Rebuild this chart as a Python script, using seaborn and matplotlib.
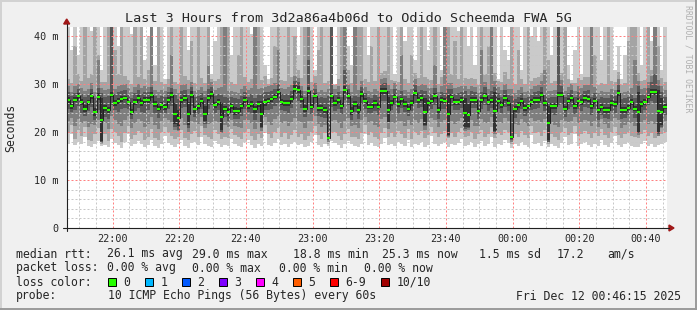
import numpy as np
import pandas as pd
import matplotlib
matplotlib.use("Agg")
import matplotlib.pyplot as plt
import matplotlib.dates as mdates
from matplotlib.ticker import FixedLocator, MultipleLocator
from matplotlib.patches import Rectangle, Polygon
from matplotlib.lines import Line2D
import seaborn as sns

# ---------------- data ----------------
START = "2025-12-11 21:46:15"

median_ms = [
    26.7, 25.4, 26.7, 27.5, 26.2, 24.9, 26.2, 27.5, 24.2, 27.4,
    22.6, 25.0, 24.6, 27.8, 26.1, 26.5, 26.9, 27.1, 26.2, 24.2,
    26.2, 27.1, 26.1, 26.7, 26.7, 27.7, 25.8, 24.9, 25.6, 25.2,
    26.6, 27.7, 23.8, 22.9, 26.7, 27.1, 23.8, 27.8, 24.7, 25.4,
    26.5, 23.8, 27.1, 27.9, 25.6, 26.2, 23.2, 24.9, 24.2, 25.4,
    24.4, 24.4, 25.4, 26.7, 25.4, 25.9, 24.7, 25.8, 23.7, 26.2,
    26.4, 26.8, 27.4, 28.4, 26.3, 26.1, 26.1, 26.9, 29.0, 28.8,
    26.9, 24.9, 28.6, 25.3, 27.6, 25.0, 25.0, 24.6, 18.8, 27.5,
    26.1, 26.7, 25.4, 28.8, 27.5, 24.4, 25.8, 24.6, 27.9, 26.4,
    25.3, 25.3, 26.1, 25.3, 28.6, 28.6, 24.6, 26.1, 27.4, 25.8,
    26.8, 25.8, 24.9, 26.1, 28.2, 26.7, 27.1, 24.2, 26.1, 26.4,
    27.5, 24.6, 26.7, 26.5, 23.7, 27.4, 26.3, 26.3, 26.7, 24.0,
    23.5, 26.7, 26.7, 24.4, 26.7, 27.5, 26.2, 26.7, 24.3, 26.5,
    25.6, 27.1, 26.1, 18.9, 24.8, 25.7, 26.5, 25.0, 25.4, 26.2,
    26.7, 26.7, 27.8, 26.1, 21.9, 25.4, 25.4, 27.8, 27.8, 24.9,
    26.5, 27.1, 25.4, 26.5, 26.2, 27.1, 26.9, 25.4, 26.5, 24.5,
    25.3, 24.6, 24.6, 26.1, 25.8, 28.2, 24.6, 24.6, 25.1, 26.2,
    24.9, 24.2, 25.8, 26.2, 27.4, 28.4, 28.4, 24.4, 24.2, 25.3,
]

# sorted ping values per step (ms); 45 = above the top of the graph
p01 = [
    17.6, 19.5, 17.2, 18.0, 17.4, 19.0, 17.0, 16.8, 17.5, 18.2,
    17.0, 17.3, 16.9, 18.5, 17.8, 17.2, 16.6, 17.9, 19.6, 17.1,
    17.4, 18.1, 17.6, 16.8, 17.2, 18.4, 17.0, 16.7, 17.5, 19.2,
    17.8, 17.3, 16.9, 17.4, 18.3, 17.0, 16.6, 17.7, 18.0, 17.2,
    19.0, 17.4, 17.1, 16.8, 18.2, 17.5, 16.9, 17.3, 17.0, 18.6,
    17.6, 17.1, 16.8, 17.9, 18.4, 17.2, 16.7, 17.5, 17.0, 19.8,
    17.3, 17.0, 17.8, 18.5, 17.2, 17.6, 16.9, 17.4, 18.0, 17.2,
    17.5, 16.8, 17.1, 17.9, 19.4, 17.3, 16.9, 17.6, 17.0, 18.1,
    17.8, 17.2, 16.7, 17.4, 18.2, 17.6, 17.0, 16.8, 17.5, 19.5,
    17.3, 17.8, 17.0, 16.9, 17.5, 18.8, 17.2, 17.6, 17.1, 18.0,
    17.4, 17.0, 18.4, 16.9, 17.6, 17.2, 17.9, 16.8, 17.3, 19.2,
    17.6, 17.0, 17.4, 18.0, 16.9, 17.5, 17.2, 17.8, 18.6, 17.0,
    17.3, 17.9, 16.8, 17.5, 18.2, 17.1, 17.4, 19.0, 16.9, 17.6,
    17.2, 18.3, 17.7, 16.7, 17.4, 17.0, 18.0, 17.3, 16.9, 19.4,
    17.5, 17.8, 17.1, 18.1, 16.8, 17.4, 17.0, 16.6, 17.7, 18.9,
    17.2, 17.6, 19.5, 17.0, 17.4, 18.0, 17.3, 16.9, 17.6, 17.1,
    18.4, 17.3, 16.9, 17.7, 19.1, 17.2, 16.8, 17.5, 17.9, 17.1,
    16.8, 16.9, 17.4, 18.2, 17.0, 17.6, 16.8, 17.2, 17.5, 17.9,
]
p02 = [
    19.8, 21.5, 18.6, 20.4, 19.2, 21.0, 18.4, 18.2, 19.6, 20.8,
    17.4, 19.5, 18.2, 20.6, 20.0, 19.1, 18.0, 19.8, 21.2, 18.6,
    19.3, 20.2, 19.7, 18.4, 19.0, 20.7, 18.8, 18.3, 19.9, 21.0,
    20.1, 19.2, 18.5, 18.9, 20.5, 18.7, 18.4, 19.6, 20.3, 19.0,
    21.2, 19.3, 18.9, 18.6, 20.4, 19.5, 18.5, 19.0, 18.8, 20.6,
    19.4, 18.9, 18.5, 20.0, 20.6, 19.1, 18.3, 19.6, 18.7, 21.4,
    19.5, 18.8, 20.0, 20.9, 19.0, 19.8, 18.6, 19.3, 20.4, 19.0,
    19.6, 18.4, 19.2, 20.1, 21.3, 19.4, 18.6, 19.7, 17.6, 20.0,
    20.0, 19.1, 18.4, 19.5, 20.6, 19.0, 18.9, 18.6, 19.8, 21.4,
    19.3, 20.1, 18.9, 18.5, 19.8, 20.9, 19.0, 19.7, 18.9, 20.2,
    19.6, 18.8, 20.6, 18.6, 19.9, 19.3, 20.2, 18.7, 19.4, 21.0,
    19.8, 18.9, 19.5, 20.3, 18.8, 19.7, 19.0, 20.0, 20.8, 18.9,
    19.2, 20.1, 18.6, 19.6, 20.5, 19.0, 19.5, 21.1, 18.8, 19.7,
    19.3, 20.4, 19.9, 17.4, 19.5, 19.0, 20.3, 19.4, 18.7, 21.2,
    19.7, 20.0, 19.2, 20.4, 17.4, 19.6, 19.0, 18.4, 19.9, 20.8,
    19.4, 19.8, 21.3, 19.1, 19.6, 20.2, 19.5, 18.8, 19.8, 19.2,
    20.6, 19.4, 18.8, 19.9, 21.0, 19.4, 18.7, 19.6, 20.1, 19.2,
    18.9, 18.7, 19.5, 20.4, 19.1, 19.8, 18.7, 19.3, 19.6, 20.0,
]
p03 = [
    22.4, 23.0, 21.2, 22.8, 21.9, 22.3, 21.0, 21.6, 21.4, 22.6,
    17.7, 21.8, 20.6, 23.4, 22.5, 21.7, 21.2, 22.6, 23.3, 20.8,
    21.9, 22.8, 22.3, 21.0, 21.7, 23.2, 21.5, 20.7, 22.2, 22.9,
    22.6, 22.0, 20.5, 20.2, 23.0, 21.4, 20.0, 22.3, 22.0, 21.6,
    23.1, 20.8, 21.6, 21.8, 22.4, 22.0, 19.8, 21.5, 21.0, 22.5,
    21.3, 21.0, 20.9, 22.5, 22.6, 21.8, 20.6, 22.0, 20.2, 23.2,
    22.1, 21.4, 22.7, 23.3, 21.8, 22.2, 21.3, 22.0, 23.0, 22.2,
    22.0, 20.8, 22.4, 22.2, 23.4, 21.6, 21.0, 21.5, 18.0, 22.3,
    22.5, 21.8, 20.9, 22.4, 23.0, 21.2, 21.4, 20.9, 22.6, 23.1,
    21.8, 22.3, 21.5, 21.0, 22.8, 23.2, 20.6, 22.1, 21.8, 22.4,
    22.2, 21.3, 22.5, 21.4, 22.6, 21.9, 22.8, 20.4, 22.0, 23.0,
    22.5, 21.0, 22.0, 22.6, 18.9, 22.4, 21.7, 22.3, 23.0, 20.2,
    20.4, 22.6, 21.3, 21.2, 22.8, 21.9, 22.0, 23.2, 19.6, 22.1,
    21.8, 22.9, 22.2, 18.0, 21.6, 21.5, 22.7, 21.8, 21.2, 23.0,
    22.2, 22.5, 22.0, 22.8, 17.8, 21.9, 21.5, 21.0, 22.6, 22.4,
    22.0, 22.3, 23.1, 21.8, 22.1, 22.6, 22.2, 21.3, 22.2, 21.0,
    22.7, 21.6, 20.8, 22.3, 23.0, 22.5, 20.9, 21.4, 22.0, 21.8,
    21.2, 19.4, 22.0, 22.6, 21.7, 22.4, 21.6, 19.2, 20.8, 22.3,
]
p04 = [
    24.8, 24.2, 24.6, 25.5, 24.0, 23.4, 24.3, 25.2, 22.6, 24.6,
    18.0, 23.2, 22.8, 25.6, 24.5, 24.2, 24.8, 25.0, 24.7, 22.8,
    24.3, 25.0, 24.2, 24.0, 24.6, 25.8, 23.9, 23.0, 24.0, 24.0,
    24.7, 25.4, 21.0, 20.5, 25.0, 25.2, 20.8, 25.4, 23.2, 23.8,
    24.8, 21.6, 24.8, 25.6, 24.0, 24.5, 20.0, 23.2, 22.4, 24.0,
    22.8, 22.7, 23.4, 24.9, 24.2, 24.0, 22.6, 24.0, 20.8, 24.5,
    24.6, 24.8, 25.5, 26.0, 24.5, 24.3, 24.0, 25.0, 26.8, 26.4,
    25.0, 23.2, 26.0, 23.8, 25.8, 23.4, 23.2, 22.9, 18.3, 25.2,
    24.4, 24.9, 23.8, 26.6, 25.6, 22.6, 24.2, 22.8, 25.8, 24.7,
    23.8, 23.9, 24.4, 23.6, 26.5, 26.4, 22.0, 24.5, 25.6, 24.0,
    25.0, 24.2, 23.3, 24.4, 26.0, 25.0, 25.2, 21.2, 24.3, 24.8,
    25.6, 22.8, 24.9, 24.8, 19.2, 25.4, 24.6, 24.6, 25.0, 20.6,
    20.8, 25.0, 25.1, 22.7, 24.8, 25.6, 24.4, 25.0, 20.0, 24.8,
    24.0, 25.2, 24.4, 18.3, 23.0, 24.0, 24.8, 23.3, 23.7, 24.5,
    24.9, 25.0, 25.8, 24.4, 18.0, 23.8, 23.6, 25.6, 25.9, 23.1,
    24.8, 25.3, 23.8, 24.8, 24.4, 25.2, 25.0, 23.6, 24.9, 22.6,
    23.6, 22.9, 22.8, 24.4, 24.0, 26.0, 22.8, 23.0, 23.5, 24.5,
    23.0, 19.7, 24.0, 24.6, 25.6, 26.5, 26.0, 19.6, 21.0, 23.6,
]
p05 = [
    26.1, 24.9, 26.2, 26.9, 25.6, 24.2, 25.7, 26.9, 23.4, 26.6,
    18.2, 24.3, 24.0, 27.2, 25.5, 25.9, 26.3, 26.6, 25.7, 23.6,
    25.6, 26.5, 25.5, 26.0, 26.1, 27.0, 25.2, 24.3, 25.0, 24.6,
    26.0, 27.0, 21.6, 21.2, 26.0, 26.5, 21.4, 27.1, 24.0, 24.8,
    25.9, 22.2, 26.5, 27.3, 25.0, 25.6, 20.4, 24.3, 23.4, 24.8,
    23.6, 23.8, 24.8, 26.1, 24.8, 25.3, 24.0, 25.2, 21.0, 25.5,
    25.8, 26.2, 26.8, 27.8, 25.7, 25.5, 25.5, 26.3, 28.3, 28.1,
    26.3, 24.2, 27.9, 24.7, 27.0, 24.4, 24.4, 24.0, 18.5, 26.9,
    25.5, 26.1, 24.8, 28.1, 26.9, 23.6, 25.2, 23.8, 27.3, 25.8,
    24.7, 24.7, 25.5, 24.7, 28.0, 28.0, 22.0, 25.5, 26.8, 25.2,
    26.2, 25.2, 24.3, 25.5, 27.6, 26.1, 26.5, 21.4, 25.5, 25.8,
    26.9, 24.0, 26.1, 25.9, 19.4, 26.8, 25.7, 25.7, 26.1, 21.0,
    21.0, 26.1, 26.1, 23.8, 26.1, 26.9, 25.6, 26.1, 20.2, 25.9,
    25.0, 26.5, 25.5, 18.6, 24.2, 25.1, 25.9, 24.4, 24.8, 25.6,
    26.1, 26.1, 27.2, 25.5, 18.3, 24.8, 24.8, 27.2, 27.2, 24.3,
    25.9, 26.5, 24.8, 25.9, 25.6, 26.5, 26.3, 24.8, 25.9, 23.9,
    24.7, 24.0, 24.0, 25.5, 25.2, 27.6, 24.0, 24.0, 24.5, 25.6,
    24.3, 20.0, 25.2, 25.6, 26.8, 27.8, 27.8, 20.0, 21.4, 24.7,
]
p06 = [
    27.3, 25.9, 27.2, 28.1, 26.8, 25.6, 26.7, 28.1, 25.0, 28.2,
    27.0, 25.7, 25.2, 28.4, 26.7, 27.1, 27.5, 27.6, 26.7, 24.8,
    26.8, 27.7, 26.7, 27.4, 27.3, 28.4, 26.4, 25.5, 26.2, 25.8,
    27.2, 28.4, 26.0, 24.6, 27.4, 27.7, 26.2, 28.5, 25.4, 26.0,
    27.1, 25.4, 27.7, 28.5, 26.2, 26.8, 26.0, 25.5, 25.0, 26.0,
    25.2, 25.0, 26.0, 27.3, 26.0, 26.5, 25.4, 26.4, 26.4, 26.9,
    27.0, 27.4, 28.0, 29.0, 26.9, 26.7, 26.7, 27.5, 29.7, 29.5,
    27.5, 25.6, 29.3, 25.9, 28.2, 25.6, 25.6, 25.2, 19.1, 28.1,
    26.7, 27.3, 26.0, 29.5, 28.1, 25.2, 26.4, 25.4, 28.5, 27.0,
    25.9, 25.9, 26.7, 25.9, 29.2, 29.2, 27.2, 26.7, 28.0, 26.4,
    27.4, 26.4, 25.5, 26.7, 28.8, 27.3, 27.7, 27.0, 26.7, 27.0,
    28.1, 25.2, 27.3, 27.1, 28.0, 28.0, 26.9, 26.9, 27.3, 27.0,
    26.0, 27.3, 27.3, 25.0, 27.3, 28.1, 26.8, 27.3, 28.4, 27.1,
    26.2, 27.7, 26.7, 19.2, 25.4, 26.3, 27.1, 25.6, 26.0, 26.8,
    27.3, 27.3, 28.4, 26.7, 25.5, 26.0, 26.0, 28.4, 28.4, 25.5,
    27.1, 27.7, 26.0, 27.1, 26.8, 27.7, 27.5, 26.0, 27.1, 25.1,
    25.9, 25.2, 25.2, 26.7, 26.4, 28.8, 25.2, 25.2, 25.7, 26.8,
    25.5, 28.4, 26.4, 26.8, 28.0, 29.0, 29.0, 28.8, 27.0, 25.9,
]
p07 = [
    28.4, 27.5, 28.2, 28.9, 28.0, 27.2, 27.9, 29.0, 27.0, 29.2,
    28.2, 27.4, 27.6, 45.0, 28.0, 28.3, 28.6, 28.8, 28.0, 27.0,
    28.1, 28.7, 28.0, 28.4, 28.3, 29.3, 27.6, 27.0, 27.6, 27.4,
    28.3, 29.2, 27.8, 26.8, 28.6, 28.8, 27.8, 29.4, 27.2, 27.5,
    28.2, 27.2, 28.9, 29.3, 27.6, 28.0, 27.8, 27.4, 27.0, 27.4,
    27.0, 26.8, 27.6, 28.4, 27.4, 28.0, 27.1, 27.8, 28.0, 28.3,
    28.4, 28.6, 29.0, 30.0, 28.0, 27.9, 28.0, 28.6, 30.6, 30.4,
    28.5, 27.2, 35.0, 27.4, 29.0, 27.0, 27.3, 27.0, 27.5, 45.0,
    27.8, 28.4, 27.2, 33.0, 29.0, 27.0, 27.6, 27.3, 29.4, 28.1,
    27.3, 27.0, 27.8, 27.2, 30.0, 30.2, 28.5, 27.8, 29.0, 27.5,
    28.6, 27.6, 27.0, 27.8, 29.8, 28.4, 28.8, 28.6, 27.9, 28.0,
    29.2, 27.0, 28.4, 28.2, 29.0, 29.0, 28.0, 28.1, 28.4, 28.5,
    27.8, 28.5, 28.3, 26.8, 28.4, 29.3, 27.9, 28.6, 29.4, 28.2,
    27.4, 28.8, 27.8, 27.6, 26.8, 27.4, 28.2, 27.0, 27.3, 27.8,
    28.4, 28.5, 29.4, 27.9, 27.0, 27.2, 27.4, 45.0, 29.6, 27.2,
    28.2, 28.8, 27.3, 28.3, 28.0, 28.6, 28.7, 27.4, 28.2, 26.8,
    27.2, 27.0, 27.0, 27.8, 27.6, 29.8, 26.9, 27.0, 27.2, 28.0,
    27.0, 29.5, 27.8, 28.0, 29.2, 30.4, 32.0, 29.6, 28.4, 27.4,
]
p08 = [
    29.6, 28.4, 29.5, 30.0, 29.2, 28.6, 29.0, 30.2, 28.4, 35.0,
    29.2, 28.8, 29.0, 45.0, 29.0, 29.6, 29.8, 30.0, 29.2, 28.4,
    29.4, 30.0, 29.2, 29.5, 29.4, 45.0, 28.8, 28.4, 28.8, 28.6,
    29.4, 36.0, 29.0, 28.2, 29.8, 30.0, 29.0, 30.5, 28.6, 28.8,
    29.4, 28.6, 34.0, 30.4, 28.8, 29.2, 29.4, 45.0, 28.6, 28.6,
    28.4, 28.2, 29.0, 29.6, 28.8, 29.2, 45.0, 29.0, 29.2, 29.4,
    29.6, 29.8, 30.2, 37.0, 29.2, 29.0, 29.4, 29.8, 31.6, 31.2,
    29.6, 28.6, 45.0, 28.8, 30.2, 28.4, 28.8, 28.4, 29.0, 45.0,
    29.0, 29.6, 28.6, 45.0, 30.0, 28.4, 45.0, 28.8, 30.6, 29.4,
    28.6, 28.4, 29.0, 28.6, 31.0, 31.2, 29.8, 29.0, 30.2, 28.8,
    36.0, 28.8, 28.4, 29.0, 31.0, 29.6, 30.0, 29.8, 29.2, 29.2,
    34.0, 28.4, 29.6, 45.0, 30.2, 30.2, 29.2, 29.4, 29.6, 29.6,
    29.0, 29.6, 29.4, 28.2, 37.0, 30.4, 29.0, 45.0, 30.6, 29.4,
    28.8, 30.0, 29.0, 29.0, 28.2, 28.8, 29.4, 28.4, 28.6, 29.0,
    29.6, 29.8, 30.6, 33.0, 28.6, 28.6, 28.8, 45.0, 30.8, 28.6,
    29.4, 30.0, 28.6, 29.6, 29.2, 29.8, 29.8, 45.0, 29.4, 28.2,
    28.6, 28.4, 28.4, 29.0, 28.8, 31.0, 28.2, 28.4, 28.6, 29.2,
    35.0, 30.6, 29.0, 29.2, 30.4, 31.6, 45.0, 30.8, 29.6, 28.8,
]
p09 = [
    31.0, 30.2, 38.0, 32.0, 30.6, 45.0, 31.2, 32.0, 45.0, 36.0,
    30.5, 30.4, 45.0, 45.0, 37.0, 32.0, 45.0, 31.6, 30.8, 30.0,
    45.0, 31.4, 45.0, 31.0, 33.0, 45.0, 30.6, 45.0, 30.4, 30.0,
    31.0, 45.0, 30.4, 30.0, 45.0, 31.6, 30.8, 39.0, 30.2, 45.0,
    31.2, 30.2, 45.0, 31.0, 30.6, 31.0, 45.0, 45.0, 45.0, 30.4,
    30.0, 36.0, 45.0, 31.4, 30.4, 31.0, 45.0, 45.0, 30.8, 31.6,
    30.0, 31.2, 38.0, 45.0, 30.8, 30.6, 45.0, 31.4, 40.0, 33.0,
    31.2, 45.0, 45.0, 30.4, 31.6, 37.0, 45.0, 30.2, 30.6, 45.0,
    29.8, 31.0, 45.0, 45.0, 33.0, 30.2, 45.0, 45.0, 45.0, 31.0,
    30.4, 38.0, 30.6, 45.0, 32.4, 32.8, 45.0, 30.8, 30.6, 30.4,
    45.0, 31.0, 30.2, 36.0, 32.4, 31.2, 45.0, 31.4, 31.0, 30.8,
    45.0, 30.0, 31.4, 45.0, 45.0, 32.0, 39.0, 31.0, 45.0, 31.2,
    31.0, 31.2, 31.0, 29.8, 45.0, 32.0, 38.0, 45.0, 32.2, 30.6,
    30.4, 32.6, 31.0, 45.0, 30.0, 37.0, 31.0, 30.0, 45.0, 30.6,
    31.2, 31.4, 32.2, 45.0, 35.0, 30.2, 30.6, 45.0, 32.4, 45.0,
    31.0, 30.2, 30.2, 31.2, 30.8, 31.4, 31.4, 45.0, 36.0, 29.8,
    30.2, 30.0, 45.0, 30.6, 30.4, 32.6, 29.8, 30.2, 39.0, 45.0,
    45.0, 32.2, 30.6, 30.8, 45.0, 33.0, 45.0, 38.0, 31.2, 30.4,
]
p10 = [
    45.0, 37.0, 45.0, 36.0, 45.0, 45.0, 45.0, 41.0, 45.0, 45.0,
    33.0, 45.0, 45.0, 45.0, 45.0, 38.0, 45.0, 45.0, 45.0, 40.5,
    45.0, 45.0, 45.0, 35.0, 40.0, 45.0, 34.0, 45.0, 45.0, 31.0,
    45.0, 45.0, 45.0, 45.0, 45.0, 45.0, 37.0, 45.0, 45.0, 45.0,
    45.0, 45.0, 45.0, 32.0, 39.0, 45.0, 45.0, 45.0, 45.0, 36.0,
    45.0, 45.0, 45.0, 45.0, 45.0, 40.5, 45.0, 45.0, 45.0, 34.0,
    31.0, 45.0, 45.0, 45.0, 45.0, 45.0, 45.0, 45.0, 45.0, 36.0,
    45.0, 45.0, 45.0, 45.0, 33.0, 45.0, 45.0, 45.0, 45.0, 45.0,
    30.0, 45.0, 45.0, 45.0, 38.0, 34.0, 45.0, 45.0, 45.0, 45.0,
    36.0, 45.0, 45.0, 45.0, 45.0, 45.0, 45.0, 45.0, 32.0, 45.0,
    45.0, 39.0, 45.0, 45.0, 35.0, 45.0, 45.0, 45.0, 37.0, 45.0,
    45.0, 45.0, 33.0, 45.0, 45.0, 45.0, 45.0, 41.0, 45.0, 45.0,
    38.0, 45.0, 34.0, 45.0, 45.0, 45.0, 45.0, 45.0, 45.0, 31.0,
    45.0, 37.0, 35.0, 45.0, 45.0, 45.0, 33.0, 45.0, 45.0, 40.0,
    45.0, 39.0, 45.0, 45.0, 45.0, 36.0, 45.0, 45.0, 45.0, 45.0,
    34.0, 30.8, 37.0, 45.0, 32.0, 45.0, 45.0, 45.0, 45.0, 45.0,
    35.0, 45.0, 45.0, 45.0, 33.0, 38.0, 31.0, 36.0, 45.0, 45.0,
    45.0, 45.0, 34.0, 45.0, 45.0, 39.0, 45.0, 45.0, 33.0, 45.0,
]

ytick_values = [0, 10, 20, 30, 40]
ytick_labels = ["0", "10 m", "20 m", "30 m", "40 m"]

title_text = "Last 3 Hours from 3d2a86a4b06d to Odido Scheemda FWA 5G"
ylabel_text = "Seconds"
watermark_text = "RRDTOOL / TOBI OETIKER"

rtt_label = "median rtt:"
rtt_items = ["26.1 ms avg", "29.0 ms max", "18.8 ms min", "25.3 ms now",
             "1.5 ms sd", "17.2", "am/s"]
loss_label = "packet loss:"
loss_items = ["0.00 % avg", "0.00 % max", "0.00 % min", "0.00 % now"]
color_label = "loss color:"
loss_names = ["0", "1", "2", "3", "4", "5", "6-9", "10/10"]
loss_colors = ["#26ff00", "#00b8ff", "#0059ff", "#7e00ff",
               "#ff00ff", "#ff5e00", "#ff0000", "#a10000"]
probe_label = "probe:"
probe_text = "10 ICMP Echo Pings (56 Bytes) every 60s"
date_text = "Fri Dec 12 00:46:15 2025"

smoke_shades = ["#cacaca", "#a4a4a4", "#7e7e7e", "#585858", "#323232"]

# ---------------- figure ----------------
W, H = 697, 310
sns.set_style("white")
plt.rcParams["font.family"] = ["DejaVu Sans Mono", "DejaVu Sans"]
plt.rcParams["lines.scale_dashes"] = False

fig = plt.figure(figsize=(W / 100, H / 100), dpi=100, facecolor="#f0f0f0")


def fx(x):
    return x / W


def fy(y):
    return 1 - y / H


ax_l, ax_r, ax_b, ax_t = 66.7, 666.7, 228.0, 27.4
ax = fig.add_axes([fx(ax_l), fy(ax_b), fx(ax_r) - fx(ax_l), fy(ax_t) - fy(ax_b)])
ax.set_facecolor("white")
for s in ax.spines.values():
    s.set_visible(False)

n = len(median_ms)
times = pd.date_range(START, periods=n + 1, freq="1min")
tn = mdates.date2num(times.to_pydatetime())

pings = np.array([p01, p02, p03, p04, p05, p06, p07, p08, p09, p10])
for i in range(5):
    lo = np.append(pings[i], pings[i][-1])
    hi = np.append(pings[9 - i], pings[9 - i][-1])
    ax.fill_between(tn, lo, hi, step="post", color=smoke_shades[i],
                    linewidth=0, antialiased=False, zorder=1)

df = pd.DataFrame({"t": tn, "median": np.append(median_ms, median_ms[-1])})
sns.lineplot(data=df, x="t", y="median", drawstyle="steps-post", color="#202020",
             linewidth=0.7, ax=ax, zorder=3, estimator=None, sort=False, legend=False)
ax.hlines(median_ms, tn[:-1], tn[1:], colors=loss_colors[0], linewidth=1.5, zorder=4)

ax.set_xlim(tn[0], tn[-1])
ax.set_ylim(0, 41.8)
ax.set_xlabel("")
ax.set_ylabel("")

ax.yaxis.set_major_locator(FixedLocator(ytick_values))
ax.set_yticklabels(ytick_labels)
ax.yaxis.set_minor_locator(MultipleLocator(2))
ax.xaxis.set_major_locator(mdates.MinuteLocator(byminute=[0, 20, 40]))
ax.xaxis.set_minor_locator(mdates.MinuteLocator(byminute=list(range(0, 60, 5))))
ax.xaxis.set_major_formatter(mdates.DateFormatter("%H:%M"))

# dotted grid: 1 px on, 1 px off (0.72 pt at 100 dpi)
DOT = (0, (1.44, 1.44))
ax.set_axisbelow(False)
ax.grid(True, which="major", color="#ff8080", linestyle=DOT, linewidth=0.72)
ax.grid(True, which="minor", color="#c8c8c8", linestyle=DOT, linewidth=0.72)
ax.tick_params(axis="y", which="both", length=1.5, width=0.72, color="#303030",
               pad=4.4, labelsize=7.3, direction="out")
ax.tick_params(axis="x", which="both", length=0, pad=4.2, labelsize=7.3)
for lab in ax.get_xticklabels() + ax.get_yticklabels():
    lab.set_family("DejaVu Sans Mono")

# axis lines + arrows
fig.add_artist(Line2D([fx(63), fx(669)], [fy(228), fy(228)], color="#202020",
                      linewidth=0.8, transform=fig.transFigure))
fig.add_artist(Line2D([fx(66.7), fx(66.7)], [fy(231), fy(24)], color="#202020",
                      linewidth=0.8, transform=fig.transFigure))
fig.add_artist(Polygon([[fx(669), fy(225)], [fx(674), fy(228)], [fx(669), fy(231)]],
                       closed=True, color="#a01818", transform=fig.transFigure))
fig.add_artist(Polygon([[fx(63.7), fy(24)], [fx(66.7), fy(19)], [fx(69.7), fy(24)]],
                       closed=True, color="#a01818", transform=fig.transFigure))

# 3d frame
fig.add_artist(Line2D([0, 1], [fy(1), fy(1)], color="#d2d2d2", linewidth=1.4,
                      transform=fig.transFigure))
fig.add_artist(Line2D([fx(1), fx(1)], [0, 1], color="#d2d2d2", linewidth=1.4,
                      transform=fig.transFigure))
fig.add_artist(Line2D([0, 1], [fy(309), fy(309)], color="#9a9a9a", linewidth=1.4,
                      transform=fig.transFigure))
fig.add_artist(Line2D([fx(696), fx(696)], [0, 1], color="#9a9a9a", linewidth=1.4,
                      transform=fig.transFigure))

# texts
fig.text(fx(348.5), fy(18), title_text, ha="center", va="center", fontsize=9.7)
fig.text(fx(11), fy(127.5), ylabel_text, rotation=90, ha="center", va="center",
         fontsize=8.3)
fig.text(fx(688), fy(5), watermark_text, rotation=-90, ha="center", va="top",
         fontsize=5.9, color="#b0b0b0")

LEG = 8.3
rtt_x = [107, 192, 293, 382, 479, 557, 607]
loss_x = [107, 192, 279, 364]
box_x = [108, 145, 182, 219, 256, 293, 330, 381]
row_y = [254, 268, 282, 296]

fig.text(fx(16), fy(row_y[0]), rtt_label, ha="left", va="center", fontsize=LEG)
for x, s in zip(rtt_x, rtt_items):
    fig.text(fx(x), fy(row_y[0]), s, ha="left", va="center", fontsize=LEG)
fig.text(fx(16), fy(row_y[1]), loss_label, ha="left", va="center", fontsize=LEG)
for x, s in zip(loss_x, loss_items):
    fig.text(fx(x), fy(row_y[1]), s, ha="left", va="center", fontsize=LEG)
fig.text(fx(16), fy(row_y[2]), color_label, ha="left", va="center", fontsize=LEG)
for x, name, c in zip(box_x, loss_names, loss_colors):
    fig.add_artist(Rectangle((fx(x), fy(row_y[2] + 4)), 8 / W, 8 / H,
                             facecolor=c, edgecolor="black", linewidth=0.7,
                             transform=fig.transFigure))
    fig.text(fx(x + 15.5), fy(row_y[2]), name, ha="left", va="center", fontsize=LEG)
fig.text(fx(16), fy(row_y[3]), probe_label, ha="left", va="center", fontsize=LEG)
fig.text(fx(108), fy(row_y[3]), probe_text, ha="left", va="center", fontsize=LEG)
fig.text(fx(681), fy(row_y[3]), date_text, ha="right", va="center", fontsize=LEG)

fig.savefig("out.png", dpi=100, facecolor=fig.get_facecolor())
